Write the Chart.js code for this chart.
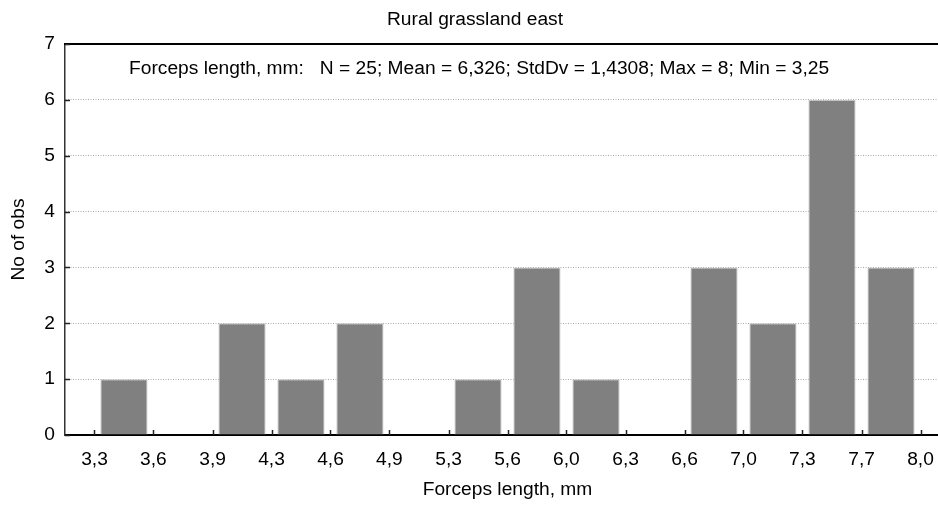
<!DOCTYPE html>
<html>
<head>
<meta charset="utf-8">
<script src="https://cdn.jsdelivr.net/npm/chart.js@4/dist/chart.umd.min.js"></script>
<style>
  html, body { margin: 0; padding: 0; background: #fff; overflow: hidden; }
  #wrap { width: 950px; height: 506px; }
</style>
</head>
<body>
<div id="wrap"><canvas id="hist" width="950" height="506"></canvas></div>
<script>
// Histogram of forceps length: 14 classes between the sample min and max
const binEdges = [3.25, 3.589, 3.929, 4.268, 4.607, 4.946, 5.286, 5.625, 5.964, 6.304, 6.643, 6.982, 7.321, 7.661, 8.0];
const edgeLabels = ['3,3', '3,6', '3,9', '4,3', '4,6', '4,9', '5,3', '5,6', '6,0', '6,3', '6,6', '7,0', '7,3', '7,7', '8,0'];
const counts = [1, 0, 2, 1, 2, 0, 1, 3, 1, 0, 3, 2, 6, 3];
const yTicks = [0, 1, 2, 3, 4, 5, 6, 7];
const statLabels = ['N', 'Mean', 'StdDv', 'Max', 'Min'];
const statValues = ['25', '6,326', '1,4308', '8', '3,25'];

const FONT = '"Liberation Sans", Arial, sans-serif';
const FS = 19.2;
const binWidth = binEdges[1] - binEdges[0];
const points = counts.map((c, i) => ({ x: (binEdges[i] + binEdges[i + 1]) / 2, y: c }));

// Frame line on top, inward tick marks and the statistics line inside the plot
const decor = {
  id: 'decor',
  afterDatasetsDraw(chart) {
    const { ctx, chartArea: a, scales } = chart;
    ctx.save();
    ctx.strokeStyle = '#000';
    ctx.lineWidth = 2;
    ctx.beginPath();
    ctx.moveTo(a.left - 1, a.top);
    ctx.lineTo(chart.width, a.top);
    ctx.stroke();

    ctx.lineWidth = 1.5;
    ctx.strokeStyle = '#222';
    ctx.beginPath();
    yTicks.forEach(v => {
      const y = Math.round(scales.y.getPixelForValue(v)) + 0.5;
      ctx.moveTo(a.left, y);
      ctx.lineTo(a.left + 5, y);
    });
    binEdges.forEach(v => {
      const x = Math.round(scales.x.getPixelForValue(v)) + 0.5;
      ctx.moveTo(x, a.bottom);
      ctx.lineTo(x, a.bottom - 5);
    });
    ctx.stroke();

    const text = 'Forceps length, mm:   ' +
      statLabels.map((n, i) => n + ' = ' + statValues[i]).join('; ');
    ctx.fillStyle = '#000';
    ctx.font = FS + 'px ' + FONT;
    ctx.textBaseline = 'alphabetic';
    ctx.textAlign = 'left';
    ctx.fillText(text, a.left + 64, a.top + 30);
    ctx.restore();
  }
};

new Chart(document.getElementById('hist'), {
  type: 'bar',
  data: {
    datasets: [{
      data: points,
      backgroundColor: '#808080',
      borderColor: '#c4c4c4',
      borderWidth: 1,
      barPercentage: 1,
      categoryPercentage: 0.8
    }]
  },
  options: {
    responsive: false,
    animation: false,
    layout: { padding: 0 },
    plugins: {
      legend: { display: false },
      tooltip: { enabled: false },
      title: {
        display: true,
        text: 'Rural grassland east',
        color: '#000',
        font: { family: FONT, size: FS, weight: 'normal' },
        padding: { top: 8, bottom: 13 }
      }
    },
    scales: {
      x: {
        type: 'linear',
        offset: false,
        min: binEdges[0] - binWidth / 2,
        max: binEdges[binEdges.length - 1] + binWidth / 2,
        afterBuildTicks: s => { s.ticks = binEdges.map(v => ({ value: v })); },
        afterFit: s => { s.height = 71; },
        ticks: {
          autoSkip: false,
          maxRotation: 0,
          padding: 13,
          color: '#000',
          font: { family: FONT, size: FS },
          callback: (v, i) => edgeLabels[i]
        },
        grid: { display: false, drawTicks: false, offset: false },
        border: { display: true, color: '#000', width: 2 },
        title: {
          display: true,
          text: 'Forceps length, mm',
          color: '#000',
          font: { family: FONT, size: FS },
          padding: { top: 0, bottom: 5 }
        }
      },
      y: {
        min: 0,
        max: 7,
        afterBuildTicks: s => { s.ticks = yTicks.map(v => ({ value: v })); },
        afterFit: s => { s.width = 65; },
        ticks: {
          padding: 10,
          color: '#000',
          font: { family: FONT, size: FS }
        },
        grid: {
          drawTicks: false,
          lineWidth: 1,
          color: c => (c.tick && c.tick.value > 0 && c.tick.value < 7) ? '#a8a8a8' : 'rgba(0,0,0,0)'
        },
        border: { display: true, color: '#333', width: 1.5, dash: [1, 1.5] },
        title: {
          display: true,
          text: 'No of obs',
          color: '#000',
          font: { family: FONT, size: FS },
          padding: { top: 7, bottom: 0 }
        }
      }
    }
  },
  plugins: [decor]
});
</script>
</body>
</html>
